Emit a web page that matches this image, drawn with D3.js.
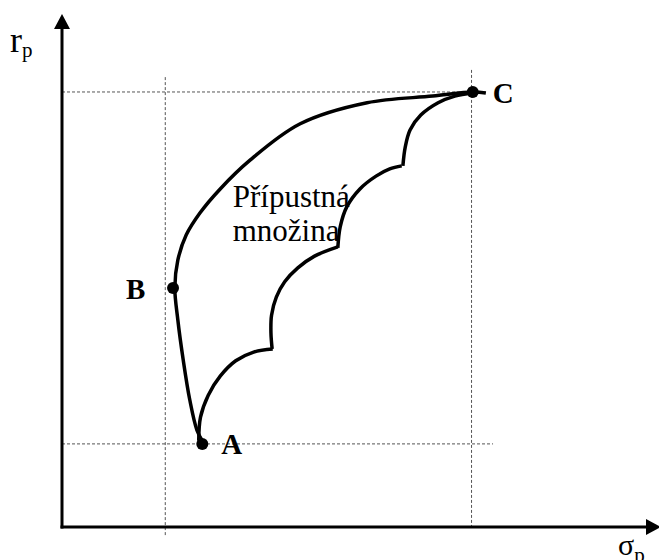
<!DOCTYPE html>
<html>
<head>
<meta charset="utf-8">
<script src="https://cdn.jsdelivr.net/npm/d3@7"></script>
<style>
  body { margin: 0; background: #fff; }
  svg { display: block; }
</style>
</head>
<body>
<svg id="chart"></svg>
<script>
// Points on the chart (sigma_p, r_p), axis units 0..100
const pointNames = ['A', 'B', 'C'];
const pointSigma = [23.5, 18.6, 68.8];
const pointR = [16.2, 46.6, 84.8];

// efficient frontier A -> B -> C
const frontierSigma = [23.6, 22.6, 21.4, 20.3, 19.4, 18.9, 19.4, 20.8, 23.1, 26.5, 31.5, 39.9, 51.1, 62.1, 68.8, 71.0];
const frontierR     = [16.6, 18.9, 24.8, 32.6, 40.4, 46.6, 52.0, 56.9, 61.2, 65.9, 71.5, 78.6, 82.7, 84.0, 84.8, 84.6];

// lower (scalloped) border of the feasible set, one array per arc
const arcSigma = [
    [22.9, 23.2, 24.5, 26.5, 29.1, 32.1, 35.3],
    [35.2, 35.0, 35.1, 35.9, 37.3, 39.5, 42.3, 46.2],
    [46.2, 46.6, 47.7, 49.9, 52.6, 54.9, 56.9],
    [57.1, 57.5, 58.3, 60.1, 63.0, 65.8, 68.8]
];
const arcR = [
    [16.8, 21.4, 25.7, 29.4, 32.4, 34.1, 34.7],
    [34.7, 37.8, 41.3, 44.8, 47.8, 50.5, 52.8, 54.6],
    [54.4, 58.5, 62.4, 65.9, 68.4, 69.8, 70.4],
    [70.4, 74.1, 77.4, 80.3, 82.7, 84.0, 84.6]
];

// dotted guide lines: [sigma1, r1, sigma2, r2]
const guideLines = [
    [0, 84.8, 68.8, 84.8],
    [0, 16.2, 72.2, 16.2],
    [17.3, 87.7, 17.3, -1.9],
    [68.6, 89.1, 68.6, 0]
];

const setLabel = ['Přípustná', 'množina'];

const SERIF = '"Liberation Serif", "Times New Roman", "DejaVu Serif", serif';

class FeasibleSet {

    constructor(_config) {
        this.config = {
            parentElement: _config.parentElement,
            containerWidth: _config.containerWidth || 659,
            containerHeight: _config.containerHeight || 560,
            margin: _config.margin || {top: 14, right: 0, bottom: 33, left: 62}
        };
        this.initVis();
    }

    initVis() {
        let vis = this;
        vis.width = vis.config.containerWidth - vis.config.margin.left - vis.config.margin.right;
        vis.height = vis.config.containerHeight - vis.config.margin.top - vis.config.margin.bottom;

        vis.xScale = d3.scaleLinear().domain([0, 100]).range([0, vis.width]);
        vis.yScale = d3.scaleLinear().domain([0, 100]).range([vis.height, 0]);

        vis.svg = d3.select(vis.config.parentElement)
            .attr('width', vis.config.containerWidth)
            .attr('height', vis.config.containerHeight)
            .attr('font-family', SERIF);

        vis.chart = vis.svg.append('g')
            .attr('transform', `translate(${vis.config.margin.left},${vis.config.margin.top})`);
    }

    renderVis() {
        let vis = this;
        const x = vis.xScale, y = vis.yScale;

        // dotted guides
        vis.chart.selectAll('.guide')
            .data(guideLines)
            .join('line')
            .attr('class', 'guide')
            .attr('x1', d => x(d[0])).attr('y1', d => y(d[1]))
            .attr('x2', d => x(d[2])).attr('y2', d => y(d[3]))
            .attr('stroke', '#555')
            .attr('stroke-width', 1)
            .attr('stroke-dasharray', '3,2');

        // axes with arrow heads
        const x0 = x(0), y0 = y(0), xEnd = x(100), yEnd = y(100);
        vis.chart.append('line')
            .attr('x1', x0).attr('y1', y0 + 1.5).attr('x2', x0).attr('y2', yEnd + 14)
            .attr('stroke', '#000').attr('stroke-width', 3);
        vis.chart.append('path')
            .attr('d', `M${x0},${yEnd} L${x0 - 8},${yEnd + 15} L${x0 + 8},${yEnd + 15} Z`)
            .attr('fill', '#000');
        vis.chart.append('line')
            .attr('x1', x0 - 1.5).attr('y1', y0).attr('x2', xEnd - 12).attr('y2', y0)
            .attr('stroke', '#000').attr('stroke-width', 3);
        vis.chart.append('path')
            .attr('d', `M${xEnd + 2},${y0} L${xEnd - 13},${y0 - 8} L${xEnd - 13},${y0 + 8} Z`)
            .attr('fill', '#000');

        const line = d3.line()
            .x(d => x(d[0]))
            .y(d => y(d[1]))
            .curve(d3.curveCatmullRom.alpha(0.5));

        // frontier
        vis.chart.append('path')
            .datum(d3.zip(frontierSigma, frontierR))
            .attr('d', line)
            .attr('fill', 'none')
            .attr('stroke', '#000')
            .attr('stroke-width', 3.5);

        // scallops
        vis.chart.selectAll('.arc')
            .data(arcSigma.map((s, i) => d3.zip(s, arcR[i])))
            .join('path')
            .attr('class', 'arc')
            .attr('d', line)
            .attr('fill', 'none')
            .attr('stroke', '#000')
            .attr('stroke-width', 3.5);

        // points
        vis.chart.selectAll('.pt')
            .data(pointNames)
            .join('circle')
            .attr('class', 'pt')
            .attr('cx', (d, i) => x(pointSigma[i]))
            .attr('cy', (d, i) => y(pointR[i]))
            .attr('r', 6)
            .attr('fill', '#000');

        const labelOffset = {A: [19, 10], B: [-47, 11], C: [20, 11]};
        vis.chart.selectAll('.pt-label')
            .data(pointNames)
            .join('text')
            .attr('class', 'pt-label')
            .attr('x', (d, i) => x(pointSigma[i]) + labelOffset[d][0])
            .attr('y', (d, i) => y(pointR[i]) + labelOffset[d][1])
            .attr('font-size', 29)
            .attr('font-weight', 'bold')
            .text(d => d);

        // label inside the set
        vis.chart.selectAll('.set-label')
            .data(setLabel)
            .join('text')
            .attr('class', 'set-label')
            .attr('x', x(28.6))
            .attr('y', (d, i) => y(62.4) + i * 34)
            .attr('font-size', 31)
            .text(d => d);

        // axis titles
        const rTitle = vis.svg.append('text')
            .attr('x', 10).attr('y', 52).attr('font-size', 36);
        rTitle.append('tspan').text('r');
        rTitle.append('tspan').attr('font-size', 21).attr('dy', 5).text('p');

        const sTitle = vis.svg.append('text')
            .attr('x', 618).attr('y', 555).attr('font-size', 30);
        sTitle.append('tspan').text('σ');
        sTitle.append('tspan').attr('font-size', 21).attr('dy', 7).text('p');
    }
}

const chart = new FeasibleSet({parentElement: '#chart'});
chart.renderVis();
</script>
</body>
</html>
